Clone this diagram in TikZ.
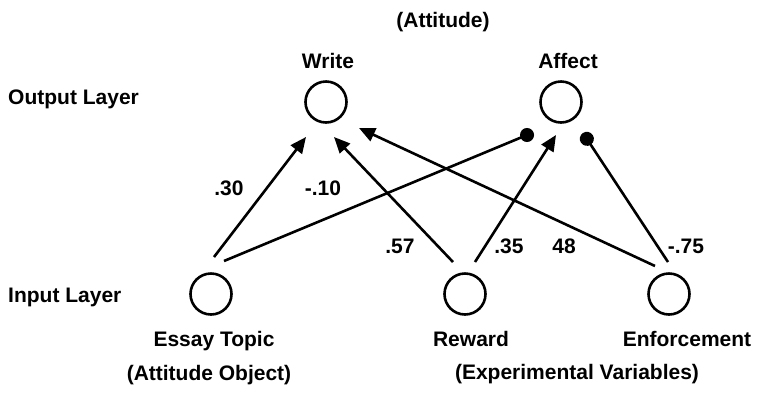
\documentclass[tikz,border=0pt]{standalone}
\usepackage{fontspec}
\setmainfont{Liberation Sans}
\usetikzlibrary{arrows.meta}
\begin{document}
\begin{tikzpicture}[x=1pt,y=-1pt,
  font=\fontsize{21}{24}\selectfont\bfseries,
  neuron/.style={draw,circle,line width=2.6pt,minimum size=41pt,inner sep=0pt},
  lbl/.style={anchor=base,inner sep=0pt},
  side/.style={anchor=base west,inner sep=0pt},
  link/.style={line width=2.6pt},
  excite/.style={link,-{Triangle[length=16pt,width=14pt]}},
  inhibit/.style={link,-{Circle[length=14pt]}}]
\useasboundingbox (0,0) rectangle (758,392);

% units
\node[neuron] (write)   at (326,102) {};
\node[neuron] (affect)  at (561,102) {};
\node[neuron] (essay)   at (211,294) {};
\node[neuron] (reward)  at (465,294) {};
\node[neuron] (enforce) at (669,294) {};

% layer and unit labels
\node[lbl] (attitude) at (443,27) {(Attitude)};
\node[lbl] (writelbl) at (328,68) {Write};
\node[lbl] (affectlbl) at (568,68) {Affect};
\node[side] (outlayer) at (8,104) {Output Layer};
\node[side] (inlayer) at (8,302) {Input Layer};
\node[lbl] (essaylbl) at (214,346) {Essay Topic};
\node[lbl] (rewardlbl) at (471,346) {Reward};
\node[lbl] (enforcelbl) at (687,346) {Enforcement};
\node[lbl] (objlbl) at (209,380) {(Attitude Object)};
\node[lbl] (explbl) at (577,379) {(Experimental Variables)};

% connector end points
\coordinate (ew0) at (214,257); \coordinate (ew1) at (306,137);
\coordinate (ea0) at (224,261); \coordinate (ea1) at (533.5,132.3);
\coordinate (rw0) at (453,262); \coordinate (rw1) at (334,137);
\coordinate (ra0) at (475,262); \coordinate (ra1) at (556,135);
\coordinate (nw0) at (655,266); \coordinate (nw1) at (359,128);
\coordinate (na0) at (668,262); \coordinate (na1) at (583,133);

% connections
\draw[excite]  (ew0) -- (ew1);
\draw[inhibit] (ea0) -- (ea1);
\draw[excite]  (rw0) -- (rw1);
\draw[excite]  (ra0) -- (ra1);
\draw[excite]  (nw0) -- (nw1);
\draw[inhibit] (na0) -- (na1);

% weights
\node[lbl] (w1) at (229,195) {.30};
\node[lbl] (w2) at (323,195) {-.10};
\node[lbl] (w3) at (400,253) {.57};
\node[lbl] (w4) at (509,253) {.35};
\node[lbl] (w5) at (564,253) {48};
\node[lbl] (w6) at (686,253) {-.75};
\end{tikzpicture}
\end{document}
